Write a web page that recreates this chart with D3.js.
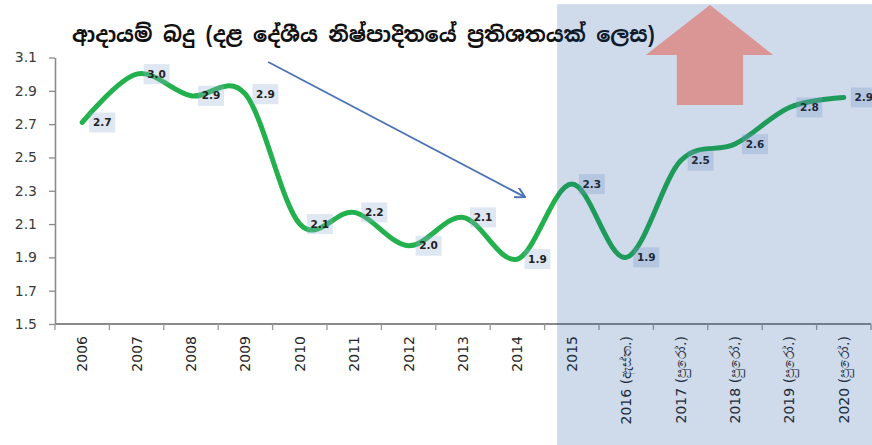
<!DOCTYPE html>
<html>
<head>
<meta charset="utf-8">
<script src="https://cdn.jsdelivr.net/npm/d3@7"></script>
<style>
  body { margin: 0; background: #fff; }
  .axis text { font-family: "DejaVu Sans", sans-serif; fill: #3a3a3a; }
</style>
</head>
<body>
<div class="chart-container"></div>
<script>
// 資料
const titleText = 'ආදායම් බදු (දළ දේශීය නිෂ්පාදිතයේ ප්‍රතිශතයක් ලෙස)';
const years = ['2006', '2007', '2008', '2009', '2010', '2011', '2012', '2013', '2014', '2015',
  '2016 (ඇස්ත.)', '2017 (පුරෝ.)', '2018 (පුරෝ.)', '2019 (පුරෝ.)', '2020 (පුරෝ.)'];
const taxRevenue = [2.71, 3.0, 2.87, 2.88, 2.1, 2.17, 1.97, 2.14, 1.89, 2.34, 1.9, 2.48, 2.58, 2.8, 2.86];
const yTicks = [1.5, 1.7, 1.9, 2.1, 2.3, 2.5, 2.7, 2.9, 3.1];
const forecastFrom = '2015';
// annotations in (category index, value) units
const trendArrow = [[3.92, 3.073], [8.64, 2.262]];
const upArrow = [[11.43, 2.815], [11.43, 3.115], [10.86, 3.115], [12.04, 3.415],
  [13.2, 3.115], [12.65, 3.115], [12.65, 2.815]];

const svg_width = 872;
const svg_height = 445;
const margin = {top: 57.5, right: 1, bottom: 121, left: 55};
const chart_width = svg_width - margin.left - margin.right;
const chart_height = svg_height - margin.top - margin.bottom;

const svg = d3.select('.chart-container').append('svg')
  .attr('width', svg_width).attr('height', svg_height);

const xScale = d3.scaleBand().domain(years).range([margin.left, margin.left + chart_width]).padding(0);
const xIdx = d3.scaleLinear().domain([0, years.length]).range([margin.left, margin.left + chart_width]);
const yScale = d3.scaleLinear().domain([1.5, 3.1]).range([margin.top + chart_height, margin.top]);
const bw = xScale.bandwidth();

// title
svg.append('text')
  .attr('x', 72).attr('y', 42)
  .text(titleText)
  .style('font-family', '"Noto Sans Sinhala", "Iskoola Pota", "DejaVu Sans", sans-serif')
  .style('font-weight', 'bold').style('font-size', '21px').style('fill', '#111');

// y axis
const yAxis = d3.axisLeft(yScale).tickValues(yTicks).tickFormat(d3.format('.1f'))
  .tickSizeInner(6).tickSizeOuter(0).tickPadding(12);
const yAxisDraw = svg.append('g').attr('class', 'axis y')
  .attr('transform', `translate(${margin.left},0)`)
  .call(yAxis);
yAxisDraw.selectAll('text').style('font-size', '14px');
yAxisDraw.selectAll('line').style('stroke', '#8a8a8a').style('stroke-width', 1.3);
yAxisDraw.select('.domain').style('stroke', '#8a8a8a').style('stroke-width', 1.6);

// x axis
const xAxisG = svg.append('g').attr('class', 'axis x');
xAxisG.append('line')
  .attr('x1', margin.left).attr('x2', margin.left + chart_width)
  .attr('y1', yScale(1.5)).attr('y2', yScale(1.5))
  .style('stroke', '#8a8a8a').style('stroke-width', 2);
xAxisG.selectAll('.xtick').data(d3.range(years.length + 1)).enter()
  .append('line').attr('class', 'xtick')
  .attr('x1', d => xIdx(d)).attr('x2', d => xIdx(d))
  .attr('y1', yScale(1.5)).attr('y2', yScale(1.5) + 6)
  .style('stroke', '#9a9a9a').style('stroke-width', 1.3);
xAxisG.selectAll('.xlabel').data(years).enter()
  .append('text').attr('class', 'xlabel')
  .attr('transform', d => `translate(${xScale(d) + bw / 2},${yScale(1.5) + 12}) rotate(-90)`)
  .attr('dy', '0.35em')
  .style('text-anchor', 'end')
  .style('font-size', '14px')
  .style('fill', '#262626')
  .text(d => d);

// trend arrow
svg.append('defs').append('marker')
  .attr('id', 'arrowhead').attr('viewBox', '0 0 10 10')
  .attr('refX', 9).attr('refY', 5)
  .attr('markerWidth', 11).attr('markerHeight', 11).attr('markerUnits', 'userSpaceOnUse')
  .attr('orient', 'auto')
  .append('path').attr('d', 'M0,0 L9,5 L0,10')
  .style('fill', 'none').style('stroke', '#4a72b5').style('stroke-width', 1.8);
svg.append('line')
  .attr('x1', xIdx(trendArrow[0][0])).attr('y1', yScale(trendArrow[0][1]))
  .attr('x2', xIdx(trendArrow[1][0])).attr('y2', yScale(trendArrow[1][1]))
  .attr('marker-end', 'url(#arrowhead)')
  .style('stroke', '#4a72b5').style('stroke-width', 1.8);

// line
const points = years.map((d, i) => ({year: d, value: taxRevenue[i]}));
const lineGen = d3.line()
  .x(d => xScale(d.year) + bw / 2).y(d => yScale(d.value))
  .curve(d3.curveCardinal.tension(0));
svg.append('path')
  .attr('d', lineGen(points))
  .style('fill', 'none').style('stroke', '#22b14c').style('stroke-width', 5)
  .style('stroke-linecap', 'round');

// data labels
const labels = svg.append('g').attr('class', 'data-labels')
  .selectAll('g').data(points).enter().append('g')
  .attr('transform', d => `translate(${xScale(d.year) + bw / 2 + 7},${yScale(d.value)})`);
labels.append('rect')
  .attr('x', 0).attr('y', -10).attr('width', 26).attr('height', 20)
  .style('fill', 'rgb(150,175,215)').style('fill-opacity', 0.3);
labels.append('text')
  .attr('x', 13).attr('y', 0).attr('dy', '0.35em')
  .style('text-anchor', 'middle')
  .style('font-family', '"DejaVu Sans", sans-serif')
  .style('font-size', '10.5px').style('font-weight', 'bold').style('fill', '#222')
  .text(d => d.value.toFixed(1));

// forecast shading (translucent overlay)
const shadeX = xScale(forecastFrom) + bw * 0.23;
svg.append('rect')
  .attr('x', shadeX).attr('y', yScale(3.42))
  .attr('width', svg_width - shadeX).attr('height', svg_height - yScale(3.42))
  .style('fill', 'rgb(15,70,150)').style('fill-opacity', 0.2);

// up arrow
svg.append('path')
  .attr('d', d3.line().x(d => xIdx(d[0])).y(d => yScale(d[1]))(upArrow) + 'Z')
  .style('fill', '#d99694');
</script>
</body>
</html>
